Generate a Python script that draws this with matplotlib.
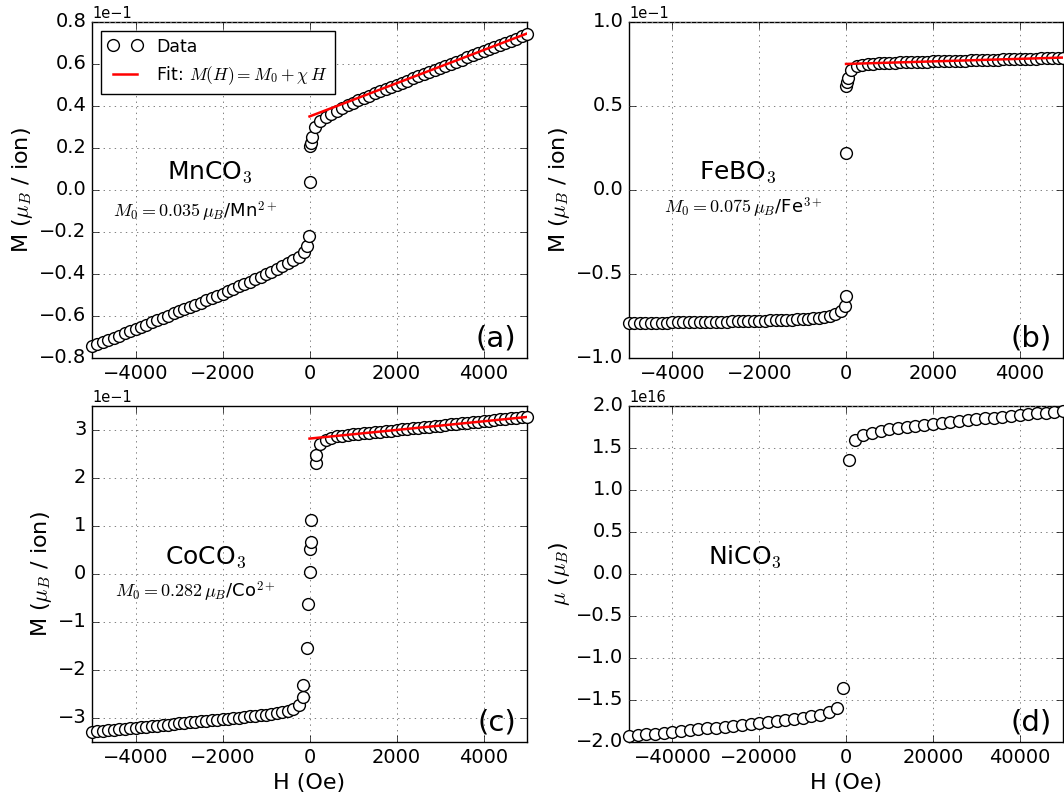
import matplotlib
matplotlib.use('Agg')

import numpy as np
import matplotlib.pyplot as plt
from matplotlib.ticker import MultipleLocator

plt.style.use('classic')

# field grid (Oe) shared by MnCO3, FeBO3 and CoCO3 branches
h_neg = [-5000, -4875, -4750, -4625, -4500, -4375, -4250, -4125, -4000, -3875,
         -3750, -3625, -3500, -3375, -3250, -3125, -3000, -2875, -2750, -2625,
         -2500, -2375, -2250, -2125, -2000, -1875, -1750, -1625, -1500, -1375,
         -1250, -1125, -1000, -875, -750, -625, -500, -375, -250]
h_pos = [250, 375, 500, 625, 750, 875, 1000, 1125, 1250, 1375,
         1500, 1625, 1750, 1875, 2000, 2125, 2250, 2375, 2500, 2625,
         2750, 2875, 3000, 3125, 3250, 3375, 3500, 3625, 3750, 3875,
         4000, 4125, 4250, 4375, 4500, 4625, 4750, 4875, 5000]

# (a) MnCO3, M in units of 1e-1 mu_B/ion
mn_neg = [-0.745, -0.735, -0.724, -0.714, -0.703, -0.693, -0.683, -0.672, -0.662, -0.651,
          -0.641, -0.630, -0.620, -0.609, -0.599, -0.588, -0.578, -0.567, -0.557, -0.546,
          -0.536, -0.525, -0.514, -0.504, -0.493, -0.482, -0.470, -0.459, -0.448, -0.436,
          -0.425, -0.414, -0.402, -0.389, -0.376, -0.363, -0.350, -0.335, -0.318]
mn_mid_h = [-125, -60, -10, 0, 5, 25, 50, 125]
mn_mid_m = [-0.297, -0.268, -0.218, 0.038, 0.209, 0.225, 0.250, 0.298]
mn_pos = [0.328, 0.348, 0.364, 0.378, 0.391, 0.404, 0.416, 0.427, 0.438, 0.449,
          0.460, 0.470, 0.481, 0.491, 0.501, 0.511, 0.521, 0.531, 0.541, 0.551,
          0.561, 0.571, 0.581, 0.591, 0.601, 0.611, 0.621, 0.631, 0.641, 0.651,
          0.661, 0.671, 0.681, 0.690, 0.700, 0.710, 0.720, 0.732, 0.743]
mn_fit = [0.350, 0.745]

# (b) FeBO3
fe_neg = [-0.792, -0.792, -0.791, -0.791, -0.790, -0.790, -0.789, -0.789, -0.788, -0.788,
          -0.787, -0.787, -0.786, -0.786, -0.785, -0.785, -0.784, -0.783, -0.783, -0.782,
          -0.781, -0.780, -0.780, -0.779, -0.778, -0.777, -0.776, -0.775, -0.774, -0.773,
          -0.771, -0.770, -0.768, -0.766, -0.764, -0.761, -0.757, -0.750, -0.740]
fe_mid_h = [-125, -30, 0, 0, 5, 20, 40, 125]
fe_mid_m = [-0.722, -0.690, -0.630, 0.218, 0.618, 0.640, 0.665, 0.712]
fe_pos = [0.735, 0.743, 0.748, 0.751, 0.753, 0.755, 0.757, 0.758, 0.759, 0.760,
          0.761, 0.762, 0.763, 0.764, 0.765, 0.766, 0.767, 0.768, 0.769, 0.770,
          0.770, 0.771, 0.772, 0.773, 0.774, 0.775, 0.776, 0.777, 0.778, 0.779,
          0.779, 0.780, 0.781, 0.782, 0.783, 0.784, 0.785, 0.786, 0.787]
fe_fit = [0.750, 0.788]

# (c) CoCO3
co_neg = [-3.290, -3.279, -3.268, -3.257, -3.246, -3.235, -3.224, -3.213, -3.202, -3.191,
          -3.180, -3.169, -3.158, -3.147, -3.136, -3.125, -3.114, -3.103, -3.092, -3.081,
          -3.070, -3.059, -3.048, -3.037, -3.026, -3.015, -3.004, -2.993, -2.981, -2.969,
          -2.957, -2.945, -2.932, -2.918, -2.903, -2.885, -2.863, -2.810, -2.720]
co_mid_h = [-150, -150, -50, -45, 0, 10, 40, 40, 145, 145]
co_mid_m = [-2.570, -2.320, -1.550, -0.630, 0.045, 0.530, 0.670, 1.130, 2.320, 2.480]
co_pos = [2.700, 2.800, 2.840, 2.865, 2.880, 2.895, 2.907, 2.919, 2.930, 2.942,
          2.953, 2.965, 2.976, 2.988, 2.999, 3.011, 3.022, 3.034, 3.045, 3.057,
          3.068, 3.080, 3.091, 3.103, 3.114, 3.126, 3.137, 3.149, 3.160, 3.172,
          3.183, 3.195, 3.206, 3.218, 3.229, 3.241, 3.252, 3.264, 3.275]
co_fit = [2.820, 3.270]

fit_h = [0, 5000]

# (d) NiCO3, moment in units of 1e16 mu_B
ni_h_neg = [-50000, -48000, -46000, -44000, -42000, -40000, -38000, -36000, -34000,
            -32000, -30000, -28000, -26000, -24000, -22000, -20000, -18000, -16000,
            -14000, -12000, -10000, -8000, -6000, -4000, -2000]
ni_neg = [-1.930, -1.920, -1.910, -1.900, -1.890, -1.878, -1.868, -1.858, -1.848,
          -1.838, -1.828, -1.818, -1.808, -1.797, -1.787, -1.776, -1.765, -1.753,
          -1.741, -1.727, -1.712, -1.695, -1.675, -1.648, -1.592]
ni_mid_h = [-800, 600]
ni_mid_m = [-1.355, 1.362]
ni_h_pos = [2000, 4000, 6000, 8000, 10000, 12000, 14000, 16000, 18000, 20000,
            22000, 24000, 26000, 28000, 30000, 32000, 34000, 36000, 38000, 40000,
            42000, 44000, 46000, 48000, 50000]
ni_pos = [1.590, 1.650, 1.680, 1.702, 1.720, 1.735, 1.749, 1.762, 1.774, 1.785,
          1.796, 1.807, 1.818, 1.829, 1.840, 1.851, 1.862, 1.873, 1.884, 1.895,
          1.903, 1.911, 1.919, 1.927, 1.935]

fig = plt.figure(figsize=(10.64, 7.98), dpi=100, facecolor='w')

rects = {'a': [0.0865, 0.5514, 0.4088, 0.4211],
         'b': [0.5912, 0.5514, 0.4079, 0.4211],
         'c': [0.0865, 0.0702, 0.4088, 0.4211],
         'd': [0.5912, 0.0702, 0.4079, 0.4211]}

panels = [
    ('a', h_neg + mn_mid_h + h_pos, mn_neg + mn_mid_m + mn_pos, mn_fit, 1e-1, 0.8, 0.2,
     r'MnCO$_3$', r'$M_0 = 0.035\,\mu_B$/Mn$^{2+}$', (0.271, 0.554), (0.237, 0.435)),
    ('b', h_neg + fe_mid_h + h_pos, fe_neg + fe_mid_m + fe_pos, fe_fit, 1e-1, 1.0, 0.5,
     r'FeBO$_3$', r'$M_0 = 0.075\,\mu_B$/Fe$^{3+}$', (0.250, 0.554), (0.263, 0.446)),
    ('c', h_neg + co_mid_h + h_pos, co_neg + co_mid_m + co_pos, co_fit, 1e-1, 3.5, 1.0,
     r'CoCO$_3$', r'$M_0 = 0.282\,\mu_B$/Co$^{2+}$', (0.260, 0.551), (0.237, 0.446)),
    ('d', ni_h_neg + ni_mid_h + ni_h_pos, ni_neg + ni_mid_m + ni_pos, None, 1e16, 2.0, 0.5,
     r'NiCO$_3$', None, (0.267, 0.551), None),
]

for key, h, m, fit, scale, ylim, ystep, comp, m0txt, comp_xy, m0_xy in panels:
    ax = fig.add_axes(rects[key])
    m = np.array(m) * scale
    ax.plot(h, m, 'o', mfc='w', mec='k', ms=8.5, mew=1.0, clip_on=False,
            label='Data', zorder=3)
    if fit is not None:
        ax.plot(fit_h, np.array(fit) * scale, '-', color='r', lw=1.8, zorder=4,
                label=r'Fit: $M(H) = M_0 + \chi\,H$')

    if key == 'd':
        ax.set_xlim(-50000, 50000)
        ax.xaxis.set_major_locator(MultipleLocator(20000))
        ax.ticklabel_format(axis='y', style='sci', scilimits=(16, 16))
        ax.set_ylabel(r'$\mu$ ($\mu_B$)', fontsize=16, labelpad=3)
    else:
        ax.set_xlim(-5000, 5000)
        ax.xaxis.set_major_locator(MultipleLocator(2000))
        ax.ticklabel_format(axis='y', style='sci', scilimits=(-1, -1))
        ax.set_ylabel(r'M ($\mu_B$ / ion)', fontsize=16, labelpad=3)
    ax.set_ylim(-ylim * scale, ylim * scale)
    ax.yaxis.set_major_locator(MultipleLocator(ystep * scale))
    ax.tick_params(labelsize=14, length=5)
    ax.yaxis.get_offset_text().set_fontsize(10.5)
    ax.grid(True, color='0.5', linestyle=':', lw=0.7)

    if key in ('c', 'd'):
        ax.set_xlabel('H (Oe)', fontsize=16)

    ax.text(comp_xy[0], comp_xy[1], comp, transform=ax.transAxes,
            ha='center', va='center', fontsize=18)
    if m0txt is not None:
        ax.text(m0_xy[0], m0_xy[1], m0txt, transform=ax.transAxes,
                ha='center', va='center', fontsize=13)
    ax.text(0.975, 0.015, '(%s)' % key, transform=ax.transAxes,
            ha='right', va='bottom', fontsize=21)

    if key == 'a':
        ax.legend(loc='upper left', numpoints=2, fontsize=12.5)

fig.savefig('out.png', dpi=100, facecolor='w')
